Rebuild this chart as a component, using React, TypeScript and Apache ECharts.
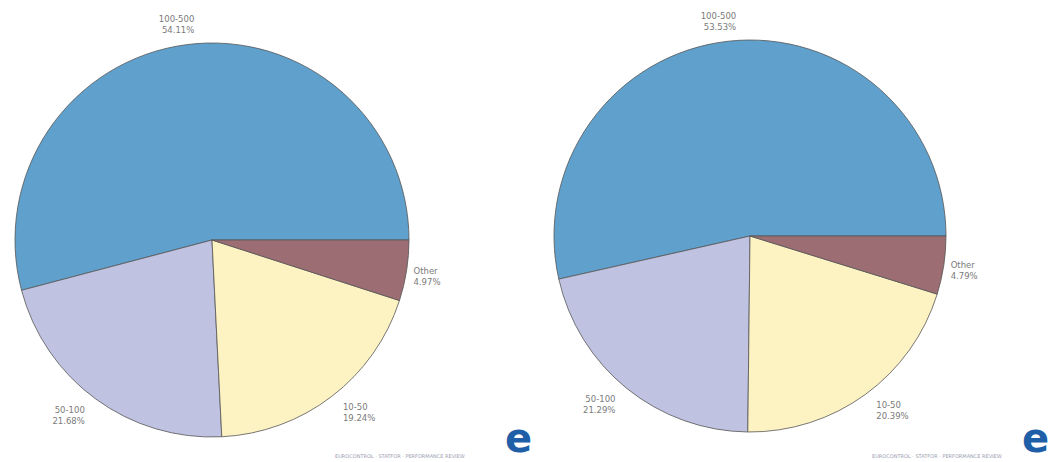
import React, { useEffect, useRef } from "react";
import * as echarts from "echarts";

const categories = ["100-500", "50-100", "10-50", "Other"];
const leftValues = [54.11, 21.68, 19.24, 4.97];
const rightValues = [53.53, 21.29, 20.39, 4.79];
const colors = ["#5FA0CD", "#BFC3E1", "#FDF2C2", "#9C6E74"];

function makeSeries(values: number[], center: [number, number], radius: number) {
  return {
    type: "pie",
    center,
    radius,
    startAngle: 0,
    clockwise: false,
    avoidLabelOverlap: false,
    label: {
      show: true,
      position: "outside",
      formatter: (p: any) => `${p.name}\n${p.value.toFixed(2)}%`,
      color: "#7a7a7a",
      fontSize: 8.5,
      lineHeight: 11,
      fontFamily: "DejaVu Sans",
    },
    labelLine: { show: false, length: 10, length2: 0 },
    labelLayout: (p: any) => (p.dataIndex === 0 ? { dy: -10, dx: 14 } : p.dataIndex === 3 ? { dx: -8, dy: 4 } : { dy: 8 }),
    itemStyle: { borderColor: "#555", borderWidth: 0.8 },
    emphasis: { disabled: true },
    data: categories.map((c, i) => ({ name: c, value: values[i], itemStyle: { color: colors[i] } })),
  };
}

export default function App() {
  const ref = useRef<HTMLDivElement>(null);
  useEffect(() => {
    document.body.style.margin = "0";
    const chart = echarts.init(ref.current!, undefined, { renderer: "svg" });
    chart.setOption({
      animation: false,
      backgroundColor: "#ffffff",
      series: [
        makeSeries(leftValues, [212, 240], 197),
        makeSeries(rightValues, [750, 236], 196),
      ],
      graphic: [
        { type: "text", left: 505, top: 418, style: { text: "e", fontSize: 40, fontWeight: "bold", fill: "#1f5fa8", fontFamily: "DejaVu Sans" } },
        { type: "text", left: 1022, top: 418, style: { text: "e", fontSize: 40, fontWeight: "bold", fill: "#1f5fa8", fontFamily: "DejaVu Sans" } },
        { type: "text", left: 335, top: 453, style: { text: "EUROCONTROL · STATFOR · PERFORMANCE REVIEW", fontSize: 5, fill: "#9aa0b0", fontFamily: "DejaVu Sans" } },
        { type: "text", left: 872, top: 453, style: { text: "EUROCONTROL · STATFOR · PERFORMANCE REVIEW", fontSize: 5, fill: "#9aa0b0", fontFamily: "DejaVu Sans" } },
      ],
    });
    return () => chart.dispose();
  }, []);
  return <div ref={ref} style={{ width: 1050, height: 462 }} />;
}
